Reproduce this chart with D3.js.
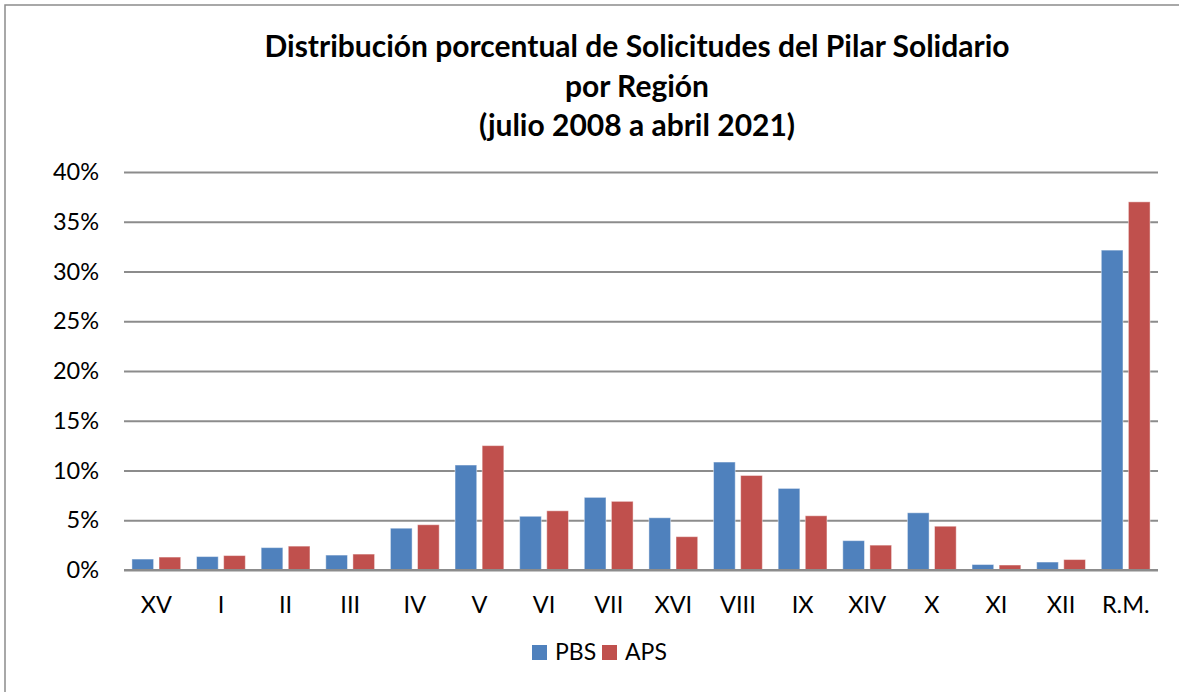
<!DOCTYPE html>
<html>
<head>
<meta charset="utf-8">
<script src="https://cdn.jsdelivr.net/npm/d3@7"></script>
<style>
  body { margin: 0; background: #fff; }
  svg { display: block; }
  text { font-family: Lato, "Open Sans", sans-serif; fill: #000; }
</style>
</head>
<body>
<div id="chart"></div>
<script>
const regions = ["XV", "I", "II", "III", "IV", "V", "VI", "VII", "XVI", "VIII", "IX", "XIV", "X", "XI", "XII", "R.M."];
const pbs = [1.1, 1.35, 2.25, 1.5, 4.2, 10.55, 5.4, 7.3, 5.25, 10.85, 8.2, 2.95, 5.75, 0.55, 0.8, 32.15];
const aps = [1.3, 1.45, 2.4, 1.6, 4.55, 12.5, 5.95, 6.9, 3.35, 9.5, 5.45, 2.5, 4.4, 0.5, 1.05, 37.0];
const seriesNames = ["PBS", "APS"];
const seriesColors = ["#4f81bd", "#c0504d"];
const yTicks = [0, 5, 10, 15, 20, 25, 30, 35, 40];
const titleLines = [
  "Distribución porcentual de Solicitudes del Pilar Solidario",
  "por Región",
  "(julio 2008 a abril 2021)"
];

const width = 1179;
const height = 692;
const plot = { left: 124, right: 1158, top: 172, bottom: 570 };

const svg = d3
  .select("#chart")
  .append("svg")
  .attr("width", width)
  .attr("height", height);

// outer frame (right and bottom edges fall outside the picture)
svg
  .append("rect")
  .attr("x", 5)
  .attr("y", 5)
  .attr("width", 1300)
  .attr("height", 800)
  .attr("fill", "none")
  .attr("stroke", "#8c8c8c")
  .attr("stroke-width", 1.5);

// title
svg
  .append("text")
  .attr("text-anchor", "middle")
  .attr("font-weight", "bold")
  .attr("font-size", 30)
  .selectAll("tspan")
  .data(titleLines)
  .enter()
  .append("tspan")
  .attr("x", 637)
  .attr("y", (d, i) => 57 + i * 39.5)
  .text((d) => d);

const x0 = d3
  .scaleBand()
  .domain(regions)
  .range([plot.left, plot.right])
  .paddingInner(0.245)
  .paddingOuter(0.1225);

const x1 = d3
  .scaleBand()
  .domain(seriesNames)
  .range([0, x0.bandwidth()])
  .paddingInner(0.2);

const y = d3.scaleLinear().domain([0, 40]).range([plot.bottom, plot.top]);

// gridlines
const yAxis = d3
  .axisLeft(y)
  .tickValues(yTicks)
  .tickSize(-(plot.right - plot.left))
  .tickPadding(25)
  .tickFormat((d) => d + "%");

const gy = svg
  .append("g")
  .attr("transform", "translate(" + plot.left + ",0)")
  .call(yAxis);
gy.select(".domain").remove();
gy.selectAll(".tick line").attr("stroke", "#8c8c8c").attr("stroke-width", 2);
gy.selectAll(".tick text")
  .attr("font-size", 23.5)
  .attr("font-family", "Lato, sans-serif")
  .attr("fill", "#000");

// bars
const groups = svg
  .append("g")
  .selectAll("g")
  .data(regions)
  .enter()
  .append("g")
  .attr("transform", (d) => "translate(" + x0(d) + ",0)");

groups
  .selectAll("rect")
  .data((d, i) => [
    { key: "PBS", value: pbs[i] },
    { key: "APS", value: aps[i] }
  ])
  .enter()
  .append("rect")
  .attr("x", (d) => x1(d.key))
  .attr("y", (d) => y(d.value))
  .attr("width", x1.bandwidth())
  .attr("height", (d) => y(0) - y(d.value))
  .attr("fill", (d, i) => seriesColors[i])
  .attr("stroke", "rgba(255,255,255,0.45)")
  .attr("stroke-width", 1);

// x axis line
svg
  .append("line")
  .attr("x1", plot.left)
  .attr("x2", plot.right)
  .attr("y1", y(0))
  .attr("y2", y(0))
  .attr("stroke", "#8c8c8c")
  .attr("stroke-width", 2);

const xAxis = d3.axisBottom(x0).tickSize(0).tickPadding(0);
const gx = svg
  .append("g")
  .attr("transform", "translate(0," + plot.bottom + ")")
  .call(xAxis);
gx.select(".domain").remove();
gx.selectAll(".tick text")
  .attr("dy", null)
  .attr("y", 43)
  .attr("font-size", 23.5)
  .attr("font-family", "Lato, sans-serif")
  .attr("fill", "#000");

// legend
const legend = svg.append("g").attr("transform", "translate(532,645)");
const legendItems = legend
  .selectAll("g")
  .data(seriesNames)
  .enter()
  .append("g")
  .attr("transform", (d, i) => "translate(" + i * 70 + ",0)");

legendItems
  .append("rect")
  .attr("width", 15)
  .attr("height", 15)
  .attr("fill", (d, i) => seriesColors[i]);

legendItems
  .append("text")
  .attr("x", 23)
  .attr("y", 15)
  .attr("font-size", 23)
  .text((d) => d);
</script>
</body>
</html>
